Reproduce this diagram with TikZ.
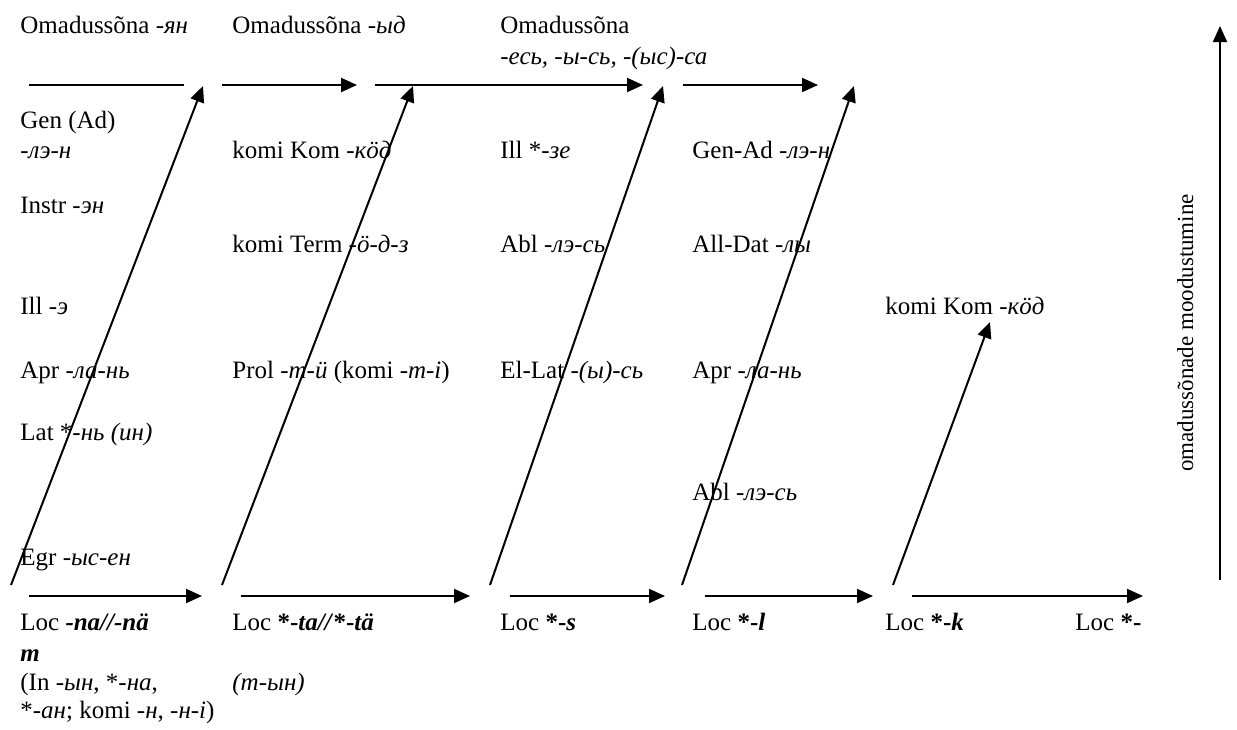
\documentclass[tikz,border=0pt]{standalone}
\usepackage{fontspec}
\setmainfont{Liberation Serif}
\usetikzlibrary{arrows.meta}

\tikzset{
  lbl/.style={anchor=base west, inner sep=0pt, font=\fontsize{12.5}{15}\selectfont},
  flow/.style={line width=1pt, -{Triangle[length=8pt, width=7pt]}},
  bare/.style={line width=1pt},
}

\begin{document}
\begin{tikzpicture}[x=0.5pt, y=-0.5pt]
    \useasboundingbox (0,0) rectangle (1237,729);

    % Top row: adjective suffixes
    \node[lbl] (adjA) at (20,33) {Omadussõna -\textit{ян}};
    \node[lbl] (adjB) at (232,33) {Omadussõna -\textit{ыд}};
    \node[lbl] (adjC) at (500,33) {Omadussõna};
    \node[lbl] (adjCx) at (500,64) {\textit{-есь, -ы-сь, -(ыс)-са}};

    % Column 1
    \node[lbl] (genA) at (20,128) {Gen (Ad)};
    \node[lbl] (genAx) at (20,158) {\textit{-лэ-н}};
    \node[lbl] (instr) at (20,213) {Instr -\textit{эн}};
    \node[lbl] (illA) at (20,314) {Ill -\textit{э}};
    \node[lbl] (aprA) at (20,378) {Apr -\textit{ла-нь}};
    \node[lbl] (lat) at (20,440) {Lat *-\textit{нь (ин)}};
    \node[lbl] (egr) at (20,565) {Egr -\textit{ыс-ен}};

    % Column 2
    \node[lbl] (komA) at (232,158) {komi Kom -\textit{кӧд}};
    \node[lbl] (term) at (232,252) {komi Term -\textit{ӧ-д-з}};
    \node[lbl] (prol) at (232,378) {Prol -\textit{т-ӥ} (komi -\textit{т-і})};

    % Column 3
    \node[lbl] (illB) at (500,158) {Ill *-\textit{зе}};
    \node[lbl] (ablA) at (500,252) {Abl -\textit{лэ-сь}};
    \node[lbl] (ellat) at (500,378) {El-Lat -\textit{(ы)-сь}};

    % Column 4
    \node[lbl] (genB) at (692,158) {Gen-Ad -\textit{лэ-н}};
    \node[lbl] (alldat) at (692,252) {All-Dat -\textit{лы}};
    \node[lbl] (aprB) at (692,378) {Apr -\textit{ла-нь}};
    \node[lbl] (ablB) at (692,500) {Abl -\textit{лэ-сь}};

    % Column 5
    \node[lbl] (komB) at (885,314) {komi Kom -\textit{кӧд}};

    % Bottom row: locative suffixes
    \node[lbl] (locA) at (20,630) {Loc \textbf{\textit{-na//-nä}}};
    \node[lbl] (locAm) at (20,661) {\textbf{\textit{m}}};
    \node[lbl] (inA) at (20,690) {(In -\textit{ын}, *-\textit{на},};
    \node[lbl] (inB) at (20,718) {*-\textit{ан}; komi -\textit{н}, -\textit{н-і})};
    \node[lbl] (locB) at (232,630) {Loc \textbf{*-\textit{ta//}*-\textit{tä}}};
    \node[lbl] (locBx) at (232,690) {\textit{(т-ын)}};
    \node[lbl] (locC) at (500,630) {Loc \textbf{*-\textit{s}}};
    \node[lbl] (locD) at (692,630) {Loc \textbf{*-\textit{l}}};
    \node[lbl] (locE) at (885,630) {Loc \textbf{*-\textit{k}}};
    \node[lbl] (locF) at (1075,630) {Loc \textbf{*-}};

    % Horizontal arrows, top and bottom
    \coordinate (t0) at (29,85);   \coordinate (t1) at (184,85);
    \coordinate (t2) at (222,85);  \coordinate (t3) at (357,85);
    \coordinate (t4) at (375,85);  \coordinate (t5) at (643,85);
    \coordinate (t6) at (683,85);  \coordinate (t7) at (818,85);
    \draw[bare] (t0) -- (t1);
    \draw[flow] (t2) -- (t3);
    \draw[flow] (t4) -- (t5);
    \draw[flow] (t6) -- (t7);

    \coordinate (b0) at (29,596);  \coordinate (b1) at (202,596);
    \coordinate (b2) at (241,596); \coordinate (b3) at (470,596);
    \coordinate (b4) at (510,596); \coordinate (b5) at (665,596);
    \coordinate (b6) at (705,596); \coordinate (b7) at (873,596);
    \coordinate (b8) at (912,596); \coordinate (b9) at (1143,596);
    \foreach \a/\b in {b0/b1, b2/b3, b4/b5, b6/b7, b8/b9} {
        \draw[flow] (\a) -- (\b);
    }

    % Diagonal arrows from locative to adjective level
    \coordinate (s1) at (11,585);  \coordinate (e1) at (203,86);
    \coordinate (s2) at (222,585); \coordinate (e2) at (413,86);
    \coordinate (s3) at (490,585); \coordinate (e3) at (663,86);
    \coordinate (s4) at (682,585); \coordinate (e4) at (854,86);
    \coordinate (s5) at (893,585); \coordinate (e5) at (990,322);
    \foreach \i in {1,...,5} {
        \draw[flow] (s\i) -- (e\i);
    }

    % Vertical axis
    \coordinate (up0) at (1220,580);
    \coordinate (up1) at (1220,26);
    \draw[flow] (up0) -- (up1);
    \node[lbl, anchor=base, rotate=90, font=\fontsize{11.5}{14}\selectfont] (axis) at (1193,333) {omadussõnade moodustumine};
\end{tikzpicture}
\end{document}
